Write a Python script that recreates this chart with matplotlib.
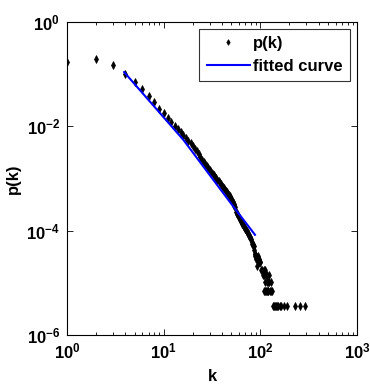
import numpy as np
import matplotlib
matplotlib.use('Agg')
import matplotlib.pyplot as plt
from matplotlib.ticker import LogLocator, FixedLocator, NullLocator

plt.rcParams['font.family'] = 'Liberation Sans'
plt.rcParams['font.weight'] = 'bold'
plt.rcParams['mathtext.fontset'] = 'custom'
plt.rcParams['mathtext.rm'] = 'Liberation Sans:bold'
plt.rcParams['mathtext.it'] = 'Liberation Sans:bold'
plt.rcParams['mathtext.bf'] = 'Liberation Sans:bold'

# degree distribution p(k)
k_vals = [1, 2, 3, 4, 5, 6, 7, 8, 9, 10,
          11, 12, 13, 14, 15, 16, 17, 18, 19, 20,
          21, 22, 23, 24, 25, 26, 27, 28, 29, 30,
          31, 32, 33, 34, 35, 36, 37, 38, 39, 40,
          41, 42, 43, 44, 45, 46, 47, 48, 49, 50,
          51, 52, 53, 54, 55, 56, 57, 58, 59, 60,
          61, 62, 63, 64, 65, 66, 67, 68, 69, 70,
          71, 72, 73, 74, 75, 76, 77, 78, 79, 80,
          81, 82, 83, 84, 85, 86, 87, 88, 89, 90,
          91, 92, 93, 94, 95, 96, 97, 98, 100, 102,
          104, 106, 108, 110, 112, 113, 115, 117, 118, 120,
          122, 124, 109, 111, 114, 116, 119, 121, 126, 128,
          130, 132, 135, 138, 141, 145, 148, 152, 158, 165,
          175, 190, 228, 256, 288]
p_vals = [0.171, 0.198, 0.148, 0.100, 0.070, 0.051, 0.038, 0.029, 0.022, 0.0178,
          0.0145, 0.0120, 0.0102, 0.0090, 0.0078, 0.0068, 0.0060, 0.0053, 0.0047, 0.0042,
          0.0037, 0.0033, 0.0029, 0.0026, 0.0023, 0.0021, 0.0019, 0.0017, 0.0016, 0.00145,
          0.00135, 0.00123, 0.00115, 0.00107, 0.00100, 0.00094, 0.00088, 0.00082, 0.00077, 0.00072,
          6.9e-4, 6.5e-4, 6.1e-4, 5.7e-4, 5.4e-4, 5.1e-4, 4.8e-4, 4.6e-4, 4.3e-4, 4.1e-4,
          3.8e-4, 3.5e-4, 3.3e-4, 3.0e-4, 2.8e-4, 2.3e-4, 2.2e-4, 2.05e-4, 1.9e-4, 1.8e-4,
          1.7e-4, 1.6e-4, 1.5e-4, 1.42e-4, 1.35e-4, 1.28e-4, 1.22e-4, 1.16e-4, 1.11e-4, 1.06e-4,
          1.02e-4, 9.7e-5, 9.3e-5, 9.0e-5, 8.6e-5, 8.3e-5, 7.9e-5, 7.6e-5, 7.3e-5, 7.0e-5,
          6.0e-5, 5.6e-5, 5.3e-5, 5.3e-5, 5.0e-5, 4.2e-5, 3.5e-5, 3.5e-5, 3.2e-5, 3.2e-5,
          2.8e-5, 2.1e-5, 2.8e-5, 3.2e-5, 2.8e-5, 2.5e-5, 2.8e-5, 2.5e-5, 2.5e-5, 1.75e-5,
          1.75e-5, 1.4e-5, 1.75e-5, 1.4e-5, 1.05e-5, 1.75e-5, 1.4e-5, 1.05e-5, 1.4e-5, 1.05e-5,
          1.4e-5, 1.05e-5, 7e-6, 7e-6, 7e-6, 7e-6, 7e-6, 7e-6, 7e-6, 7e-6,
          1.05e-5, 7e-6, 3.5e-6, 3.5e-6, 3.5e-6, 3.5e-6, 3.5e-6, 3.5e-6, 3.5e-6, 3.5e-6,
          3.5e-6, 3.5e-6, 3.5e-6, 3.5e-6, 3.5e-6]

# fitted curve, points
fit_k = [3.9, 16.0, 52.5, 88.0]
fit_p = [0.11, 5.5e-3, 2.9e-4, 8.3e-5]

fig = plt.figure(figsize=(3.70, 3.88), dpi=100)
ax = fig.add_axes([0.181, 0.137, 0.784, 0.806])

ax.plot(k_vals, p_vals, 'd', color='k', markersize=3.6, markeredgewidth=0.5,
        label='p(k)')
ax.plot(fit_k, fit_p, '-', color=(0, 0, 1), linewidth=1.5, label='fitted curve')

ax.set_xscale('log')
ax.set_yscale('log')
ax.set_xlim(1, 1000)
ax.set_ylim(1e-6, 1)

ax.xaxis.set_major_locator(FixedLocator([1, 10, 100, 1000]))
ax.xaxis.set_minor_locator(LogLocator(base=10, subs=np.arange(2, 10)))
ax.yaxis.set_major_locator(FixedLocator([1e-6, 1e-4, 1e-2, 1]))
ax.yaxis.set_minor_locator(NullLocator())
ax.xaxis.set_minor_formatter(plt.NullFormatter())

ax.tick_params(which='both', direction='in', top=True, right=True,
               labelsize=12, pad=5)
ax.tick_params(which='major', length=4, width=0.6)
ax.tick_params(which='minor', length=2, width=0.6)
for s in ax.spines.values():
    s.set_linewidth(0.8)

ax.set_xlabel('k', fontsize=12, fontweight='bold', labelpad=5)
ax.set_ylabel('p(k)', fontsize=12, fontweight='bold', labelpad=4)

leg = ax.legend(loc='upper right', fontsize=12, frameon=True, fancybox=False,
                borderpad=0.45, handlelength=2.6, handletextpad=0.2,
                labelspacing=0.45, borderaxespad=0.4, markerscale=0.8)
leg.get_frame().set_edgecolor('k')
leg.get_frame().set_linewidth(0.8)

fig.savefig('out.png', dpi=100)
